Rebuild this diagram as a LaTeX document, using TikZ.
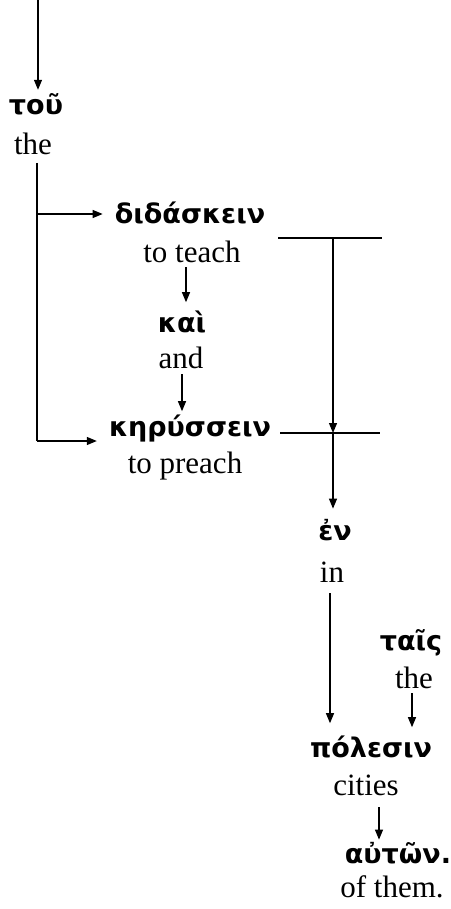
\documentclass[tikz,border=0pt]{standalone}
\usepackage{fontspec}
\setmainfont{Liberation Serif}
\newfontfamily\grk{DejaVu Sans}
\usetikzlibrary{arrows.meta}

\begin{document}
\begin{tikzpicture}[x=1pt,y=-1pt,
  gk/.style={font=\grk\bfseries\fontsize{27}{30}\selectfont, inner sep=0pt, anchor=base},
  en/.style={font=\fontsize{31}{36}\selectfont, inner sep=0pt, anchor=base},
  arr/.style={-{Triangle[length=10pt,width=8pt]}, line width=1.2pt},
  ln/.style={line width=1.2pt}]
\useasboundingbox (0,0) rectangle (450,909);

% words and glosses
\node[gk] (tou) at (36,115) {τοῦ};
\node[en] (the1) at (33,155) {the};
\node[gk] (did) at (190,224) {διδάσκειν};
\node[en] (teach) at (192,262) {to teach};
\node[gk] (kai) at (182,332) {καὶ};
\node[en] (and) at (181,368) {and};
\node[gk] (ker) at (190,436) {κηρύσσειν};
\node[en] (preach) at (185,473) {to preach};
\node[gk] (en) at (335,540) {ἐν};
\node[en] (in) at (332,582) {in};
\node[gk] (tais) at (411,650) {ταῖς};
\node[en] (the2) at (414,688) {the};
\node[gk] (pol) at (371,757) {πόλεσιν};
\node[en] (cities) at (366,795) {cities};
\node[gk] (aut) at (398,863) {αὐτῶν.};
\node[en] (them) at (392,897) {of them.};

% bracket and cross coordinates
\coordinate (top) at (38,0);
\coordinate (bt) at (37,163);
\coordinate (bb) at (37,441);
\coordinate (b1) at (37,214);
\coordinate (L1) at (278,238);
\coordinate (R1) at (382,238);
\coordinate (V1) at (333,238);
\coordinate (L2) at (280,433);
\coordinate (R2) at (380,433);
\coordinate (V2) at (333,433);
\coordinate (inb) at (330,593);
\coordinate (a1) at (186,267);
\coordinate (a2) at (182,374);
\coordinate (a3) at (412,693);
\coordinate (a4) at (379,807);

% connectors (yshift is in page direction: positive moves up)
\draw[arr, shorten >=4pt] (top) -- (top |- tou.north);
\draw[ln] (bt) -- (bb);
\draw[arr] (b1) -- ([xshift=-12pt]did.west |- b1);
\draw[arr] (bb) -- ([xshift=-12pt]ker.west |- bb);
\draw[arr] (a1) -- ([yshift=8pt]a1 |- kai.north);
\draw[arr] (a2) -- ([yshift=3pt]a2 |- ker.north);
\draw[ln] (L1) -- (R1);
\draw[ln] (L2) -- (R2);
\draw[arr] (V1) -- (V2);
\draw[arr] (V2) -- ([yshift=10pt]V2 |- en.north);
\draw[arr] (inb) -- ([yshift=12pt]inb |- pol.north);
\draw[arr] (a3) -- ([yshift=8pt]a3 |- pol.north);
\draw[arr] (a4) -- ([yshift=2pt]a4 |- aut.north);
\end{tikzpicture}
\end{document}
